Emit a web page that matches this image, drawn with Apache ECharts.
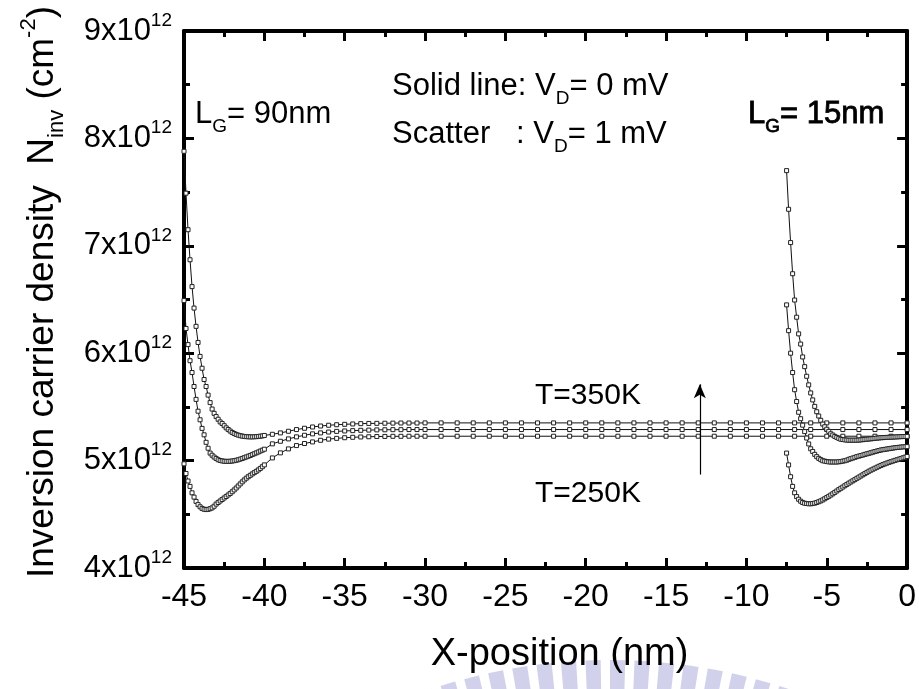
<!DOCTYPE html>
<html><head><meta charset="utf-8">
<script src="https://cdn.jsdelivr.net/npm/echarts@6/dist/echarts.min.js"></script>
<style>html,body{margin:0;padding:0;background:#fff}#c{width:919px;height:689px}</style>
</head><body><div id="c"></div>
<script>
// Carrier density values are in units of 1e12 cm^-2; x positions in nm.
const xLg90 = [
  -45, -44.875, -44.75, -44.625, -44.5, -44.375, -44.25, -44.125, -44, -43.875,
  -43.75, -43.625, -43.5, -43.375, -43.25, -43.125, -43, -42.875, -42.75, -42.625,
  -42.5, -42.375, -42.25, -42.125, -42, -41.875, -41.75, -41.625, -41.5, -41.375,
  -41.25, -41.125, -41, -40.875, -40.75, -40.625, -40.5, -40.375, -40.25, -40.125,
  -40,
  -39.5, -39, -38.5, -38, -37.5, -37, -36.5, -36, -35.5, -35,
  -34.5, -34, -33.5, -33, -32.5, -32, -31.5, -31, -30.5, -30,
  -29, -28, -27, -26, -25, -24, -23, -22, -21, -20,
  -19, -18, -17, -16, -15, -14, -13, -12, -11, -10,
  -9, -8, -7, -6, -5, -4, -3, -2, -1, 0
];
const nLg90_350K = [
  7.88, 7.49, 7.15, 6.87, 6.62, 6.42, 6.25, 6.10, 5.97, 5.86,
  5.755, 5.69, 5.61, 5.54, 5.48, 5.44, 5.41, 5.385, 5.36, 5.345,
  5.325, 5.305, 5.29, 5.275, 5.262, 5.252, 5.244, 5.237, 5.232, 5.228,
  5.225, 5.223, 5.222, 5.221, 5.221, 5.222, 5.223, 5.225, 5.227, 5.230,
  5.234,
  5.245, 5.258, 5.273, 5.289, 5.301, 5.313, 5.322, 5.329, 5.334, 5.338,
  5.341, 5.344, 5.346, 5.347, 5.348, 5.349, 5.35, 5.35, 5.35, 5.351,
  5.351, 5.351, 5.351, 5.351, 5.351, 5.351, 5.351, 5.351, 5.351, 5.351,
  5.351, 5.351, 5.351, 5.351, 5.351, 5.351, 5.351, 5.351, 5.351, 5.351,
  5.351, 5.351, 5.351, 5.351, 5.351, 5.351, 5.351, 5.351, 5.351, 5.351
];
const nLg90_300K = [
  6.49, 6.23, 6.08, 5.93, 5.82, 5.69, 5.57, 5.46, 5.38, 5.30,
  5.24, 5.17, 5.115, 5.07, 5.05, 5.033, 5.02, 5.008, 5.001, 4.997,
  4.994, 4.993, 4.993, 4.994, 4.996, 4.999, 5.003, 5.008, 5.014, 5.020,
  5.027, 5.034, 5.041, 5.048, 5.056, 5.064, 5.072, 5.080, 5.089, 5.097,
  5.106,
  5.156, 5.180, 5.202, 5.221, 5.236, 5.249, 5.258, 5.266, 5.272, 5.276,
  5.279, 5.282, 5.284, 5.286, 5.287, 5.288, 5.288, 5.289, 5.289, 5.289,
  5.289, 5.289, 5.289, 5.289, 5.289, 5.289, 5.289, 5.289, 5.289, 5.289,
  5.289, 5.289, 5.289, 5.289, 5.289, 5.289, 5.289, 5.289, 5.289, 5.289,
  5.289, 5.289, 5.289, 5.289, 5.289, 5.289, 5.289, 5.289, 5.289, 5.289
];
const nLg90_250K = [
  4.97, 4.88, 4.81, 4.76, 4.70, 4.66, 4.62, 4.59, 4.57, 4.555,
  4.547, 4.544, 4.546, 4.552, 4.560, 4.575, 4.595, 4.610, 4.624, 4.638,
  4.652, 4.666, 4.680, 4.694, 4.710, 4.727, 4.745, 4.764, 4.783, 4.802,
  4.820, 4.836, 4.850, 4.863, 4.876, 4.888, 4.900, 4.913, 4.927, 4.943,
  4.960,
  5.025, 5.072, 5.109, 5.140, 5.159, 5.174, 5.189, 5.200, 5.207, 5.213,
  5.217, 5.220, 5.222, 5.224, 5.225, 5.226, 5.226, 5.227, 5.227, 5.227,
  5.227, 5.227, 5.227, 5.227, 5.227, 5.227, 5.227, 5.227, 5.227, 5.227,
  5.227, 5.227, 5.227, 5.227, 5.227, 5.227, 5.227, 5.227, 5.227, 5.227,
  5.227, 5.227, 5.227, 5.227, 5.227, 5.227, 5.227, 5.227, 5.227, 5.227
];

const xLg15 = [
  -7.5, -7.375, -7.25, -7.125, -7, -6.875, -6.75, -6.625, -6.5, -6.375,
  -6.25, -6.125, -6, -5.875, -5.75, -5.625, -5.5, -5.375, -5.25, -5.125,
  -5, -4.875, -4.75, -4.625, -4.5, -4.375, -4.25, -4.125, -4, -3.875,
  -3.75, -3.625, -3.5, -3.375, -3.25, -3.125, -3, -2.875, -2.75, -2.625,
  -2.5, -2.375, -2.25, -2.125, -2, -1.875, -1.75, -1.625, -1.5, -1.375,
  -1.25, -1.125, -1, -0.875, -0.75, -0.625, -0.5, -0.375, -0.25, -0.125,
  0
];
const nLg15_A = [
  7.70, 7.34, 7.03, 6.74, 6.495, 6.335, 6.18, 6.085, 5.965, 5.875,
  5.785, 5.705, 5.63, 5.565, 5.505, 5.455, 5.415, 5.375, 5.34, 5.315,
  5.292, 5.272, 5.25, 5.238, 5.225, 5.216, 5.207, 5.199, 5.196, 5.193,
  5.191, 5.19, 5.19, 5.19, 5.19, 5.19, 5.191, 5.193, 5.195, 5.197,
  5.199, 5.201, 5.203, 5.205, 5.207, 5.209, 5.211, 5.213, 5.214, 5.215,
  5.216, 5.217, 5.218, 5.219, 5.220, 5.221, 5.222, 5.223, 5.224, 5.224,
  5.225
];
const nLg15_B = [
  6.45, 6.21, 6.00, 5.82, 5.66, 5.55, 5.45, 5.39, 5.33, 5.27,
  5.21, 5.155, 5.11, 5.085, 5.058, 5.037, 5.021, 5.009, 4.999, 4.995,
  4.991, 4.988, 4.987, 4.987, 4.987, 4.987, 4.989, 4.991, 4.995, 4.999,
  5.004, 5.012, 5.018, 5.024, 5.030, 5.037, 5.042, 5.047, 5.052, 5.058,
  5.063, 5.068, 5.073, 5.079, 5.084, 5.089, 5.094, 5.099, 5.102, 5.105,
  5.108, 5.111, 5.114, 5.117, 5.120, 5.122, 5.124, 5.126, 5.128, 5.129,
  5.13
];
const nLg15_C = [
  5.07, 4.96, 4.85, 4.76, 4.70, 4.665, 4.64, 4.622, 4.61, 4.603,
  4.60, 4.598, 4.598, 4.60, 4.604, 4.61, 4.617, 4.625, 4.634, 4.645,
  4.656, 4.667, 4.679, 4.691, 4.704, 4.717, 4.73, 4.742, 4.754, 4.766,
  4.778, 4.79, 4.801, 4.812, 4.823, 4.835, 4.846, 4.857, 4.868, 4.879,
  4.89, 4.901, 4.911, 4.92, 4.929, 4.938, 4.947, 4.955, 4.963, 4.97,
  4.977, 4.984, 4.99, 4.996, 5.002, 5.008, 5.014, 5.02, 5.026, 5.032,
  5.038
];

// Arrow from T=250K to T=350K (data coordinates)
const arrowX = -12.9, arrowFrom = 4.87, arrowTo = 5.71;

const xTicks = { min: -45, max: 0, interval: 5 };
const yTicks = { min: 4, max: 9, interval: 1 };
const yExpLabel = '12';

const F = "'Liberation Sans', Arial, Helvetica, sans-serif";

function mk(name, xs, ys, extra) {
  const s = {
    type: 'line', name: name,
    data: xs.map((x, i) => [x, ys[i]]),
    symbol: 'rect', symbolSize: 4,
    showSymbol: true, showAllSymbol: true,
    lineStyle: { color: '#111', width: 1 },
    itemStyle: { color: '#fff', borderColor: '#222', borderWidth: 1 },
    emphasis: { disabled: true },
    animation: false, z: 3
  };
  return Object.assign(s, extra || {});
}

const axisCommon = {
  axisLine: { show: true, onZero: false, lineStyle: { color: '#000', width: 4 } },
  axisTick: { show: true, inside: true, length: 10, lineStyle: { color: '#000', width: 3 } },
  minorTick: { show: true, splitNumber: 2, length: 6, lineStyle: { color: '#000', width: 3 } },
  splitLine: { show: false },
  minorSplitLine: { show: false }
};

const subRich = { s: { fontSize: 19, lineHeight: 19, verticalAlign: 'bottom', fontFamily: F, fill: '#000' } };

// faint striped watermark emblem (decoration only)
const watermark = [];
(function () {
  const a0 = Math.PI * 1.32, a1 = Math.PI * 1.68, n = 26;
  const step = (a1 - a0) / n;
  for (let i = 0; i < n; i++) {
    watermark.push({ type: 'sector', z: -10, silent: true,
      shape: { cx: 610, cy: 1225, r: 565, r0: 505, startAngle: a0 + i * step, endAngle: a0 + i * step + step * 0.62 },
      style: { fill: 'rgba(135,135,205,0.38)' } });
  }
})();

const chart = echarts.init(document.getElementById('c'), null, { renderer: 'canvas' });
chart.setOption({
  animation: false,
  backgroundColor: '#fff',
  textStyle: { fontFamily: F, color: '#000' },
  grid: { left: 184, top: 31, width: 725, height: 537, containLabel: false },
  xAxis: [
    Object.assign({
      type: 'value', position: 'bottom', min: xTicks.min, max: xTicks.max, interval: xTicks.interval,
      axisLabel: { fontSize: 32, color: '#000', margin: 13, fontFamily: F },
      name: 'X-position (nm)', nameLocation: 'middle', nameGap: 68,
      nameTextStyle: { fontSize: 38, color: '#000', fontFamily: F, padding: [0, 0, 0, 28] }
    }, axisCommon),
    Object.assign({
      type: 'value', position: 'top', min: xTicks.min, max: xTicks.max, interval: xTicks.interval,
      axisLabel: { show: false }
    }, axisCommon)
  ],
  yAxis: [
    Object.assign({
      type: 'value', position: 'left', min: yTicks.min, max: yTicks.max, interval: yTicks.interval,
      axisLabel: {
        margin: 12, color: '#000',
        formatter: v => '{m|' + v + 'x10}{s|' + yExpLabel + '}',
        rich: {
          m: { fontSize: 31, lineHeight: 40, color: '#000', fontFamily: F },
          s: { fontSize: 19, lineHeight: 19, verticalAlign: 'top', color: '#000', fontFamily: F }
        }
      }
    }, axisCommon),
    Object.assign({
      type: 'value', position: 'right', min: yTicks.min, max: yTicks.max, interval: yTicks.interval,
      axisLabel: { show: false }
    }, axisCommon)
  ],
  series: [
    mk('LG90 350K', xLg90, nLg90_350K, {
      markLine: {
        silent: true, symbol: ['none', 'arrow'], symbolSize: [9, 14],
        lineStyle: { color: '#000', width: 1.2, type: 'solid' },
        label: { show: false },
        data: [[{ coord: [arrowX, arrowFrom] }, { coord: [arrowX, arrowTo] }]]
      }
    }),
    mk('LG90 300K', xLg90, nLg90_300K),
    mk('LG90 250K', xLg90, nLg90_250K),
    mk('LG15 A', xLg15, nLg15_A),
    mk('LG15 B', xLg15, nLg15_B),
    mk('LG15 C', xLg15, nLg15_C)
  ],
  graphic: watermark.concat([
    { type: 'text', x: 43, y: 292, rotation: Math.PI / 2, z: 10, style: {
      text: 'Inversion carrier density  N{sub|inv} (cm{sup|-2})',
      fontSize: 37, lineHeight: 50, fontFamily: F, fill: '#000', align: 'center', verticalAlign: 'middle',
      rich: {
        sub: { fontSize: 22, lineHeight: 22, verticalAlign: 'bottom', fontFamily: F, fill: '#000' },
        sup: { fontSize: 22, lineHeight: 22, verticalAlign: 'top', fontFamily: F, fill: '#000' }
      } } },
    { type: 'text', x: 195, y: 114, z: 10, style: {
      text: 'L{s|G}= 90nm', fontSize: 31, lineHeight: 44, fontFamily: F, fill: '#000',
      align: 'left', verticalAlign: 'middle', rich: subRich } },
    { type: 'text', x: 748, y: 114, z: 10, style: {
      text: 'L{s|G}= 15nm', fontSize: 31, lineHeight: 44, fontFamily: F, fill: '#000',
      stroke: '#000', lineWidth: 0.8,
      align: 'left', verticalAlign: 'middle',
      rich: { s: { fontSize: 19, lineHeight: 19, verticalAlign: 'bottom', fontFamily: F, fill: '#000', stroke: '#000', lineWidth: 0.8 } } } },
    { type: 'text', x: 392, y: 86, z: 10, style: {
      text: 'Solid line: V{s|D}= 0 mV', fontSize: 31, lineHeight: 44, fontFamily: F, fill: '#000',
      align: 'left', verticalAlign: 'middle', rich: subRich } },
    { type: 'text', x: 392, y: 134, z: 10, style: {
      text: 'Scatter   : V{s|D}= 1 mV', fontSize: 31, lineHeight: 44, fontFamily: F, fill: '#000',
      align: 'left', verticalAlign: 'middle', rich: subRich } },
    { type: 'text', x: 535, y: 396, z: 10, style: {
      text: 'T=350K', fontSize: 30, fontFamily: F, fill: '#000', align: 'left', verticalAlign: 'middle' } },
    { type: 'text', x: 535, y: 494, z: 10, style: {
      text: 'T=250K', fontSize: 30, fontFamily: F, fill: '#000', align: 'left', verticalAlign: 'middle' } }
  ])
});
</script>
</body></html>
